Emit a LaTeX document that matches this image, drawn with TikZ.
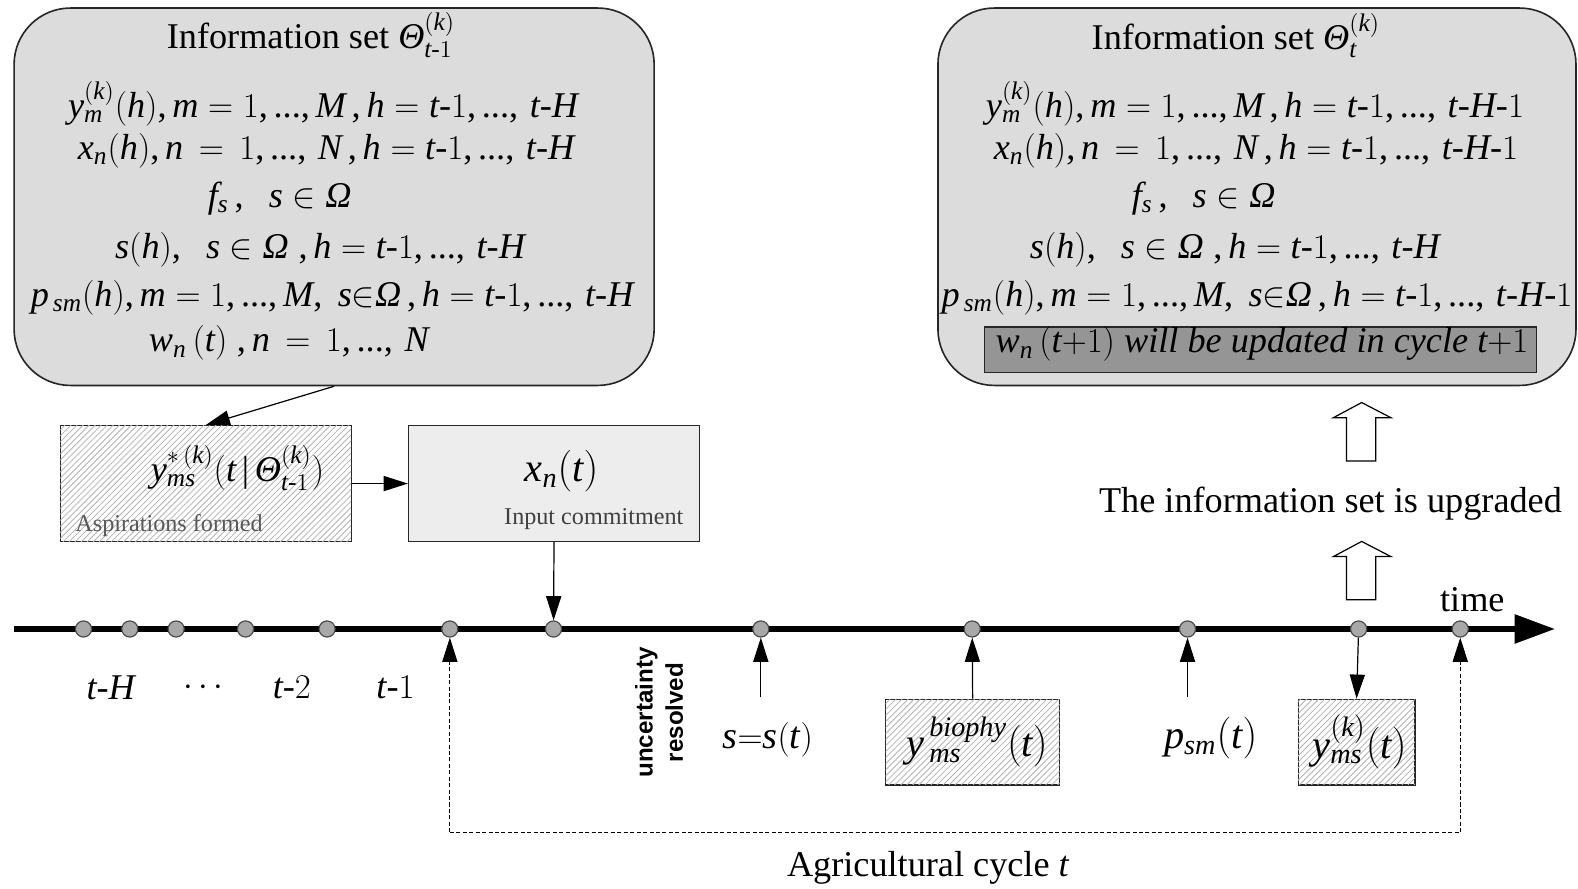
\documentclass[tikz,border=0pt]{standalone}
\usepackage{amsmath}
\usepackage{fontspec}
\setmainfont{Liberation Serif}[NFSSFamily=libser]
\newfontfamily\labelsans{Liberation Sans}
\usetikzlibrary{arrows.meta,patterns}

% Times-like letters, digits and delimiters in formulas
\DeclareSymbolFont{tletters}{TU}{libser}{m}{it}
\DeclareSymbolFont{tdigits}{TU}{libser}{m}{n}
\makeatletter
\count@=`a
\loop \mathcode\count@=\numexpr"7000+\symtletters*"100+\count@\relax
  \ifnum\count@<`z \advance\count@ 1 \repeat
\count@=`A
\loop \mathcode\count@=\numexpr"7000+\symtletters*"100+\count@\relax
  \ifnum\count@<`Z \advance\count@ 1 \repeat
\count@=`0
\loop \mathcode\count@=\numexpr"7000+\symtdigits*"100+\count@\relax
  \ifnum\count@<`9 \advance\count@ 1 \repeat
\mathcode`(=\numexpr"4000+\symtdigits*"100+`(\relax
\mathcode`)=\numexpr"5000+\symtdigits*"100+`)\relax
\mathcode`+=\numexpr"2000+\symtdigits*"100+`+\relax
\mathcode`==\numexpr"3000+\symtdigits*"100+`=\relax
\mathcode`,=\numexpr"6000+\symtdigits*"100+`,\relax
\mathcode`.=\numexpr"0000+\symtdigits*"100+`.\relax
\mathcode`|=\numexpr"0000+\symtdigits*"100+`|\relax
\makeatother
\newcommand{\hy}{\text{-}}
\newcommand{\ddd}{\text{...}}
\newcommand{\vTheta}{\text{\itshape Θ}}
\newcommand{\vOmega}{\text{\itshape Ω}}

\definecolor{boxgray}{HTML}{DCDCDC}
\definecolor{inputgray}{HTML}{EDEDED}
\definecolor{dotgray}{HTML}{A8A8A8}
\definecolor{hlgray}{HTML}{959595}
\definecolor{hatchgray}{HTML}{B4B4B4}

\tikzset{
  infobox/.style={draw=black!85, line width=0.8pt, fill=boxgray, rounded corners=28pt},
  txt/.style={inner sep=0pt},
  hatchbox/.style={draw=black!85, line width=0.7pt, fill=white,
    postaction={pattern=north east lines, pattern color=hatchgray}},
  plainbox/.style={draw=black!85, line width=0.7pt, fill=inputgray},
  tdot/.style={circle, draw=black!70, line width=0.6pt, fill=dotgray,
    minimum size=8pt, inner sep=0pt},
  tip/.style={-{Triangle[length=12pt,width=7.5pt]}},
  arr/.style={line width=0.6pt, tip},
  cyc/.style={line width=0.5pt, dash pattern=on 2pt off 1.2pt},
  blockarrow/.style={draw=black, line width=0.6pt, fill=white},
  small/.style={font=\fontsize{12}{14}\selectfont},
  big/.style={font=\fontsize{20}{24}\selectfont},
}

\begin{document}
\begin{tikzpicture}[x=0.5pt,y=-0.5pt,font=\fontsize{18}{22}\selectfont]
\useasboundingbox (0,0) rectangle (1568,883);

% ---- information set before the cycle ----
\node[infobox, minimum width=318pt, minimum height=187.5pt] (infoL) at (332,195.5) {};
\node[txt] (tL) at (309,35) {Information set $\vTheta^{(k)}_{t\hy 1}$};
\node[txt] (l1) at (321,103) {$y^{(k)}_{m}(h), m = 1,\ddd, M\,, h = t\hy 1,\ddd,\, t\hy H$};
\node[txt] (l2) at (324,150) {$x_{n}(h), n\,=\,1,\ddd,\, N\,, h = t\hy 1,\ddd,\, t\hy H$};
\node[txt] (l3) at (278,197) {$f_{s}\,,\;\; s\in\vOmega$};
\node[txt] (l4) at (318,248) {$s(h),\;\; s\in\vOmega\;, h = t\hy 1,\ddd,\, t\hy H$};
\node[txt] (l5) at (330,296) {$p_{\,sm}(h), m = 1,\ddd,M,\; s{\in}\vOmega\,, h = t\hy 1,\ddd,\, t\hy H$};
\node[txt] (l6) at (287,341) {$w_{n}\,(t)\;, n\,=\,1,\ddd,\, N$};

% ---- information set after the cycle ----
\node[infobox, minimum width=317pt, minimum height=187.5pt] (infoR) at (1249,195.5) {};
\node[txt] (tR) at (1228,35) {Information set $\vTheta^{(k)}_{t}$};
\node[txt] (r1) at (1247,103) {$y^{(k)}_{m}(h), m = 1,\ddd, M\,, h = t\hy 1,\ddd,\, t\hy H\hy 1$};
\node[txt] (r2) at (1248,150) {$x_{n}(h), n\,=\,1,\ddd,\, N\,, h = t\hy 1,\ddd,\, t\hy H\hy 1$};
\node[txt] (r3) at (1196,197) {$f_{s}\,,\;\; s\in\vOmega$};
\node[txt] (r4) at (1227,248) {$s(h),\;\; s\in\vOmega\;, h = t\hy 1,\ddd,\, t\hy H$};
\node[txt] (r5) at (1249,296) {$p_{\,sm}(h), m = 1,\ddd,M,\; s{\in}\vOmega\,, h = t\hy 1,\ddd,\, t\hy H\hy 1$};
\node[draw=black!85, line width=0.7pt, fill=hlgray, minimum width=274.5pt, minimum height=22.5pt] (hl) at (1252.5,347.5) {};
\node[txt] (r6) at (1254,342) {$w_{n}\,(t{+}1)$ \textit{will be updated in cycle} $t{+}1$};

% ---- aspirations and input commitment ----
\node[hatchbox, minimum width=144.5pt, minimum height=57.5pt] (asp) at (204.5,480.5) {};
\node[txt] (aspm) at (236,465) {$y^{*\,(k)}_{ms}(t\,|\,\vTheta^{(k)}_{t\hy 1})$};
\node[txt, small, text=black!65] (aspl) at (168,522) {Aspirations formed};
\node[plainbox, minimum width=144.5pt, minimum height=57.5pt] (inp) at (550.5,480.5) {};
\node[txt, big] (inpm) at (558,468) {$x_{n}(t)$};
\node[txt, small, text=black!75] (inpl) at (590,516) {Input commitment};

\draw[arr] (infoL.south) -- (asp.north);
\draw[arr] (asp.east) -- (inp.west);

% ---- time axis ----
\coordinate (axs) at (14,625);
\coordinate (axe) at (1545,625);
\draw[line width=2.6pt, -{Triangle[length=20pt,width=14pt]}] (axs) -- (axe);
\foreach \n/\x in {1/83,2/129,3/175,4/244,5/325,6/447,7/550,8/756,9/966,10/1180,11/1350,12/1451}
  \node[tdot] (d\n) at (\x,625) {};
\node[txt] (time) at (1463,596) {time};

\node[txt] (tH) at (110,683) {$t\hy H$};
\node[txt] (tdots) at (205,683) {$\cdots$};
\node[txt] (t2) at (290,683) {$t\hy 2$};
\node[txt] (t1) at (393,683) {$t\hy 1$};

\draw[arr] (inp.south) -- (d7);

% ---- events within the cycle ----
\node[txt, rotate=90, align=center, font=\labelsans\bfseries\fontsize{12}{15}\selectfont] (unc) at (655,708) {uncertainty\\resolved};

\coordinate (sfoot) at (756,693);
\node[txt, font=\fontsize{19}{23}\selectfont] (sst) at (763,735) {$s{=}s(t)$};
\draw[arr] (sfoot) -- (d8);

\node[hatchbox, minimum width=86.5pt, minimum height=42.5pt] (bio) at (966.5,737.5) {};
\node[txt, big] (biom) at (971,737) {$y^{\,biophy}_{\,ms}(t)$};
\draw[arr] (bio.north) -- (d9);

\coordinate (pfoot) at (1180,693);
\node[txt, big] (psm) at (1203,733) {$p_{sm}(t)$};
\draw[arr] (pfoot) -- (d10);

\node[hatchbox, minimum width=58pt, minimum height=42.5pt] (yk) at (1348,737.5) {};
\node[txt, big] (ykm) at (1351,737) {$y^{(k)}_{ms}(t)$};
\draw[arr] (d11) -- (yk.north);

% ---- the agricultural cycle ----
\coordinate (cycL) at (447,827);
\coordinate (cycR) at (1451,827);
\draw[cyc] (cycL) -- (cycR);
\draw[cyc, tip] (cycL) -- (d6);
\draw[cyc, tip] (cycR) -- (d12);
\node[txt] (agr) at (922,862) {Agricultural cycle $t$};

% ---- upgrade of the information set ----
\node[txt] (upg) at (1322,500) {The information set is upgraded};
\draw[blockarrow] (1353,400) -- (1382,415) -- (1367,415) -- (1367,458)
  -- (1338,458) -- (1338,415) -- (1325,415) -- cycle;
\draw[blockarrow] (1353,538) -- (1382,553) -- (1367,553) -- (1367,596)
  -- (1338,596) -- (1338,553) -- (1325,553) -- cycle;
\end{tikzpicture}
\end{document}
